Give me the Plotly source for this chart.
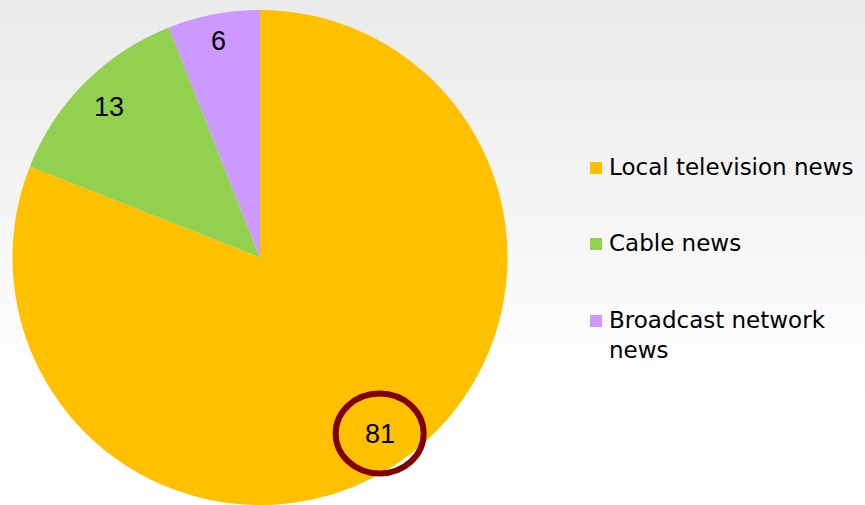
import math
import plotly.graph_objects as go

labels = ["Local television news", "Cable news", "Broadcast network news"]
legend_text = ["Local television news", "Cable news", "Broadcast network<br>news"]
values = [81, 13, 6]
colors = ["#FFC000", "#92D050", "#CC99FF"]

W, H = 865, 505

fig = go.Figure()
fig.add_trace(go.Pie(
    labels=labels,
    values=values,
    sort=False,
    direction="clockwise",
    rotation=0,
    marker=dict(colors=colors, line=dict(width=0)),
    textinfo="none",
    hoverinfo="label+value",
    showlegend=False,
    domain=dict(x=[12 / W, 508 / W], y=[0, 1 - 10 / H]),
))

# pie geometry (pixels) for label placement
cx, cy_top, r = 260, 257.5, 247.5
shapes = []
# background gradient
n = 60
for i in range(n):
    y0 = 1 - i / n
    y1 = 1 - (i + 1) / n
    t = min(1.0, (i + 0.5) / (n * 0.78))
    c = int(round(234 + (255 - 234) * t))
    shapes.append(dict(type="rect", xref="paper", yref="paper", x0=0, x1=1,
                       y0=y1, y1=y0 + 0.002, fillcolor=f"rgb({c},{c},{c})",
                       line=dict(width=0), layer="below"))

annotations = []
total = sum(values)
cum = 0
fracs = [0.86, 0.86, 0.89]
label_pos = []
for v, f in zip(values, fracs):
    mid = (cum + v / 2) / total * 2 * math.pi
    cum += v
    px = cx + f * r * math.sin(mid)
    py = cy_top - f * r * math.cos(mid)
    label_pos.append((px, py))
    annotations.append(dict(x=px / W, y=1 - py / H, xref="paper", yref="paper",
                            text=str(v), showarrow=False,
                            font=dict(family="Liberation Sans, Arial", size=27, color="#000000"),
                            xanchor="center", yanchor="middle"))

# highlight ring around the largest value
hx, hy = label_pos[0]
shapes.append(dict(type="circle", xref="paper", yref="paper",
                   x0=(hx - 44) / W, x1=(hx + 44) / W,
                   y0=1 - (hy + 40) / H, y1=1 - (hy - 40) / H,
                   line=dict(color="#800000", width=6), layer="above"))

# legend (markers + text)
leg_y = [168, 244, 321]
for txt, col, ly in zip(legend_text, colors, leg_y):
    shapes.append(dict(type="rect", xref="paper", yref="paper",
                       x0=590 / W, x1=602 / W, y0=1 - (ly + 6) / H, y1=1 - (ly - 6) / H,
                       fillcolor=col, line=dict(width=0)))
    annotations.append(dict(x=607 / W, y=1 - (ly - 16) / H, xref="paper", yref="paper",
                            text=txt, showarrow=False, align="left",
                            font=dict(family="DejaVu Sans", size=23, color="#000000"),
                            xanchor="left", yanchor="top"))

fig.update_layout(
    width=W, height=H,
    margin=dict(l=0, r=0, t=0, b=0),
    paper_bgcolor="#ffffff",
    plot_bgcolor="rgba(0,0,0,0)",
    shapes=shapes,
    annotations=annotations,
)

fig.write_html("out.html", config={"displayModeBar": False},
               post_script="document.body.style.margin='0';document.body.style.overflow='hidden';")
